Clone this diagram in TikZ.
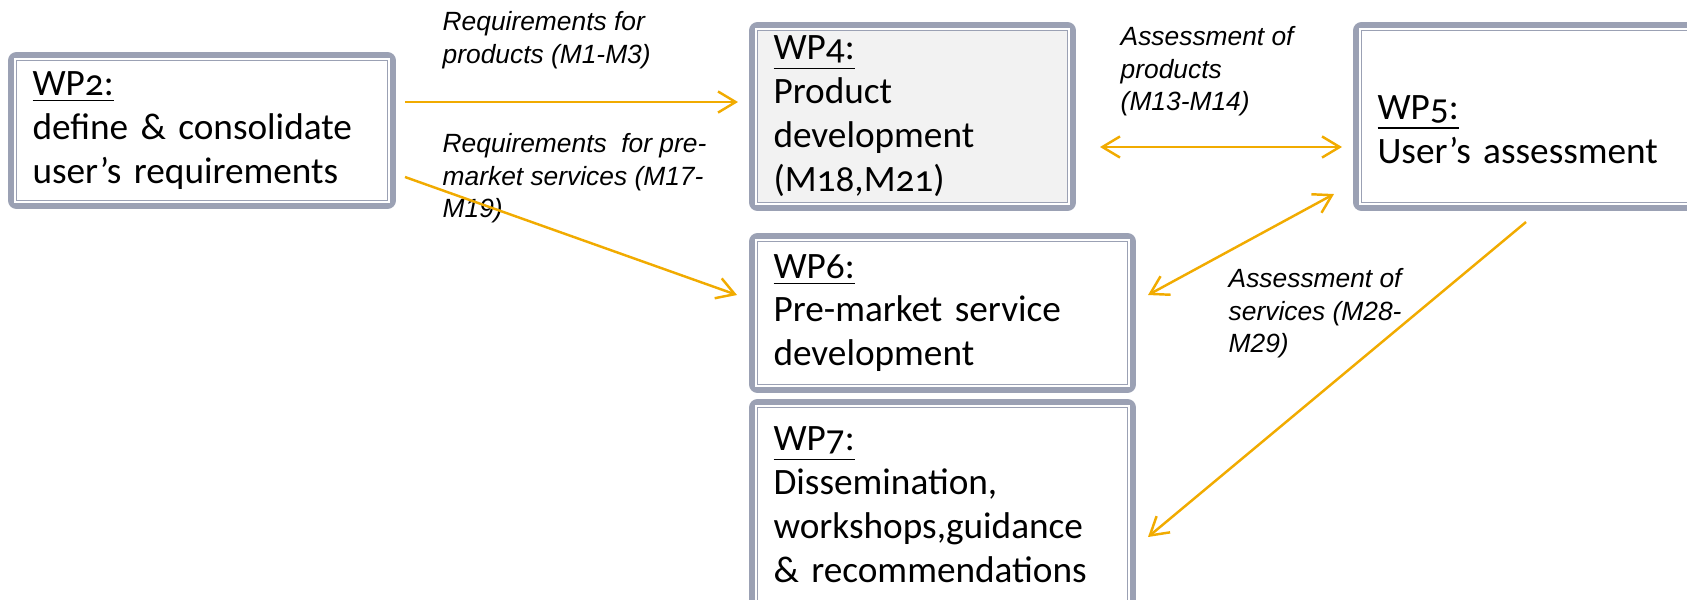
\documentclass[tikz,border=0pt]{standalone}
\usepackage{fontspec}
\setmainfont{Carlito}[Numbers=OldStyle]
\newfontfamily\notefont{Liberation Sans}
\usepackage{xcolor}
\usetikzlibrary{arrows.meta,positioning,calc}

\definecolor{framegray}{RGB}{155,161,180}
\definecolor{flowamber}{RGB}{241,171,0}
\definecolor{wpgray}{RGB}{242,242,242}

\begin{document}
\begin{tikzpicture}
    \tikzstyle{wpbox} = [draw=framegray, line width=0.35pt, fill=white, rectangle, anchor=north west, align=left, outer sep=0pt,
        inner xsep=0.16cm, inner ysep=0pt, font=\fontsize{10.6}{12.5}\selectfont,
        preaction={draw=framegray, line width=4.8pt, line join=round},
        preaction={draw=white, line width=1.4pt}]
    \tikzstyle{note} = [anchor=north west, align=left, inner sep=0pt, font=\notefont\itshape\fontsize{7.5}{9.25}\selectfont]
    \tikzstyle{flow} = [-{Straight Barb[length=5pt,width=6pt]}, line width=0.7pt, color=flowamber]
    \tikzstyle{flowboth} = [{Straight Barb[length=5pt,width=6pt]}-{Straight Barb[length=5pt,width=6pt]}, line width=0.7pt, color=flowamber]

    \useasboundingbox (0,0) rectangle (16.87,5.99);

    \node [wpbox, minimum height=1.40cm, text width=3.39cm] (wp2) at (0.165,5.385)
        {\underline{WP2:}\\define \& consolidate\\user’s requirements};
    \node [wpbox, fill=wpgray, minimum height=1.72cm, text width=2.78cm] (wp4) at (7.575,5.685)
        {\underline{WP4:}\\Product\\development\\(M18,M21)};
    \node [wpbox, right=2.94cm of wp4.north east, anchor=north west, minimum height=1.72cm, text width=3.28cm] (wp5)
        {\rule{0pt}{0.5cm}\underline{WP5:}\\User’s assessment};
    \node [wpbox, below=0.39cm of wp4.south west, anchor=north west, minimum height=1.43cm, text width=3.38cm] (wp6)
        {\underline{WP6:}\\Pre-market service\\development};
    \node [wpbox, below=0.23cm of wp6.south west, anchor=north west, minimum height=1.95cm, text width=3.38cm] (wp7)
        {\underline{WP7:}\\Dissemination,\\workshops,guidance\\\& recommendations};

    \node [note] (reqprod) at (4.42,5.88) {Requirements for\\products (M1-M3)};
    \node [note] (reqserv) at (4.42,4.66) {Requirements~ for pre-\\market services (M17-\\M19)};
    \node [note] (assprod) at (11.20,5.73) {Assessment of\\products\\(M13-M14)};
    \node [note] (assserv) at (12.28,3.31) {Assessment of\\services (M28-\\M29)};

    \draw [flow] ([shift={(0.175,0.285)}]wp2.east) -- ([shift={(-0.195,0.145)}]wp4.west);
    \draw [flow] ([shift={(0.175,-0.465)}]wp2.east) -- ([shift={(-0.205,0.18)}]wp6.west);
    \draw [flowboth] ([shift={(0.325,-0.305)}]wp4.east) -- ([shift={(-0.195,-0.305)}]wp5.west);
    \draw [flowboth] ([shift={(0.205,0.18)}]wp6.east) -- ([shift={(-0.275,0.085)}]wp5.south west);
    \draw [flow] ([shift={(1.645,-0.195)}]wp5.south west) -- ([shift={(0.205,-0.32)}]wp7.east);
\end{tikzpicture}
\end{document}
